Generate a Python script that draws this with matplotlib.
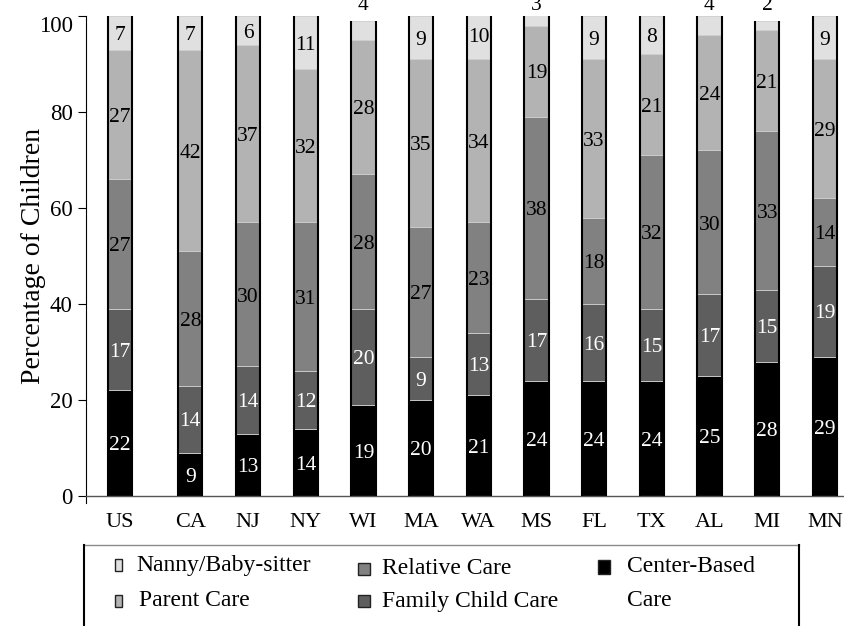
import numpy as np
import matplotlib
matplotlib.use("Agg")
import matplotlib.pyplot as plt
from matplotlib.lines import Line2D
from matplotlib.patches import Rectangle

plt.rcParams['font.family'] = ['Liberation Serif', 'DejaVu Serif']

# ---- data -------------------------------------------------------------
states = ["US", "CA", "NJ", "NY", "WI", "MA", "WA", "MS", "FL", "TX", "AL", "MI", "MN"]
center_based = [22, 9, 13, 14, 19, 20, 21, 24, 24, 24, 25, 28, 29]
family_care = [17, 14, 14, 12, 20, 9, 13, 17, 16, 15, 17, 15, 19]
relative_care = [27, 28, 30, 31, 28, 27, 23, 38, 18, 32, 30, 33, 14]
parent_care = [27, 42, 37, 32, 28, 35, 34, 19, 33, 21, 24, 21, 29]
nanny = [7, 7, 6, 11, 4, 9, 10, 3, 9, 8, 4, 2, 9]

series = [
    ("Center-Based\nCare", center_based, "#000000", "white"),
    ("Family Child Care", family_care, "#5e5e5e", "white"),
    ("Relative Care", relative_care, "#818181", "black"),
    ("Parent Care", parent_care, "#b3b3b3", "black"),
    ("Nanny/Baby-sitter", nanny, "#e0e0e0", "black"),
]
yticks = [0, 20, 40, 60, 80, 100]

# ---- figure -----------------------------------------------------------
W, H = 844, 626
fig = plt.figure(figsize=(W / 100, H / 100), dpi=100)


def fx(px):
    return px / W


def fy(py):
    return 1 - py / H


ax = fig.add_axes([fx(86), fy(496), fx(844) - fx(86), fy(16) - fy(496)])

# US sits apart from the states
gap = 0.22
x = np.arange(len(states)) + gap * (np.arange(len(states)) > 0)
width = 0.42

bottom = np.zeros(len(states))
for name, vals, color, tcolor in series:
    vals = np.asarray(vals, dtype=float)
    ax.bar(x, vals, width, bottom=bottom, color=color,
           edgecolor="#cdcdcd", linewidth=0.6, zorder=2)
    for xi, b, v in zip(x, bottom, vals):
        if v >= 5:
            ax.annotate(f"{int(v)}", (xi, b + v / 2), xytext=(0, -2),
                        textcoords="offset points", ha="center", va="center",
                        fontsize=15.5, color=tcolor, zorder=4)
        else:
            ax.text(xi, 101.2, f"{int(v)}", ha="center", va="baseline",
                    fontsize=15.5, color="black", clip_on=False, zorder=4)
    bottom += vals

# dark side edges of each bar
tops = np.minimum(bottom, 100)
ax.vlines(x - width / 2, 0, tops, colors="black", linewidth=1.5, zorder=3)
ax.vlines(x + width / 2, 0, tops, colors="black", linewidth=1.5, zorder=3)

ax.set_xlim(-0.589, 12.552)
ax.set_ylim(0, 100)
ax.set_xticks(x)
ax.set_xticklabels(states, fontsize=16)
ax.tick_params(axis="x", length=0, pad=12)
ax.set_yticks(yticks)
ax.set_yticklabels([str(t) for t in yticks], fontsize=16.5)
ax.tick_params(axis="y", direction="out", length=6, width=0.8, pad=3.5)
ax.get_yticklabels()[-1].set_verticalalignment("top")

for s in ("top", "right"):
    ax.spines[s].set_visible(False)
ax.spines["left"].set_linewidth(0.8)
ax.spines["left"].set_bounds(-1.5, 100)
ax.spines["bottom"].set_color("#555555")
ax.spines["bottom"].set_linewidth(1.0)

fig.text(fx(34), fy(256), "Percentage of Children", rotation=90,
         ha="center", va="center", fontsize=20)

# ---- legend box -------------------------------------------------------
fig.add_artist(Line2D([fx(84), fx(799)], [fy(545), fy(545)], color="#8a8a8a",
                      linewidth=1.0, transform=fig.transFigure))
fig.add_artist(Line2D([fx(84), fx(84)], [fy(545), fy(640)], color="black",
                      linewidth=1.5, transform=fig.transFigure))
fig.add_artist(Line2D([fx(799), fx(799)], [fy(545), fy(640)], color="black",
                      linewidth=1.5, transform=fig.transFigure))

legend_items = [
    (series[4], 115, 7, 565, 136),
    (series[3], 115, 7, 601, 139),
    (series[2], 358, 12, 569, 382),
    (series[1], 358, 12, 601, 382),
]
for (name, _, color, _), mx, mw, my, tx in legend_items:
    fig.add_artist(Rectangle((fx(mx), fy(my + 6)), fx(mw), fy(0) - fy(12),
                             facecolor=color, edgecolor="#222222", linewidth=1.0,
                             transform=fig.transFigure))
    fig.text(fx(tx), fy(my), name, ha="left", va="center", fontsize=17)

cname, _, ccolor, _ = series[0]
fig.add_artist(Rectangle((fx(598), fy(574)), fx(12), fy(0) - fy(14),
                         facecolor=ccolor, edgecolor="#222222", linewidth=1.0,
                         transform=fig.transFigure))
for i, line in enumerate(cname.split("\n")):
    fig.text(fx(627), fy(566 + 34 * i), line, ha="left", va="center",
             fontsize=17)

fig.savefig("out.png", dpi=100)
